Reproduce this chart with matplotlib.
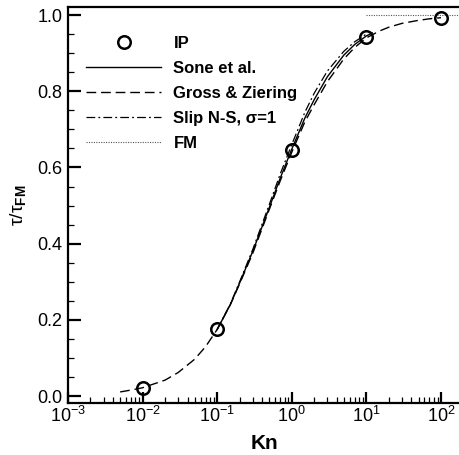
import numpy as np
import matplotlib
matplotlib.use("Agg")
import matplotlib.pyplot as plt
from matplotlib.ticker import LogLocator, MultipleLocator, NullFormatter

plt.rcParams['font.family'] = ['Liberation Sans', 'DejaVu Sans']
plt.rcParams['mathtext.fontset'] = 'custom'
plt.rcParams['mathtext.rm'] = 'Liberation Sans'
plt.rcParams['mathtext.bf'] = 'Liberation Sans:bold'
plt.rcParams['mathtext.it'] = 'Liberation Sans:italic'

# IP points
kn_ip = [0.01, 0.1, 1.0, 10.0, 100.0]
tau_ip = [0.021, 0.177, 0.647, 0.943, 0.993]

# Sone et al.
kn_sone = [0.1, 0.15, 0.2, 0.3, 0.5, 0.7, 1.0, 1.5, 2.0, 3.0, 5.0, 7.0, 10.0, 12.0]
tau_sone = [0.175, 0.24, 0.297, 0.38, 0.495, 0.572, 0.648, 0.73, 0.778, 0.838, 0.895, 0.923, 0.945, 0.953]

# Gross & Ziering
kn_gz = [0.005, 0.007, 0.01, 0.02, 0.03, 0.05, 0.07, 0.1, 0.15, 0.2, 0.3, 0.5, 0.7, 1.0,
         1.5, 2.0, 3.0, 5.0, 7.0, 10.0, 15.0, 20.0, 30.0, 50.0, 70.0, 100.0]
tau_gz = [0.011, 0.016, 0.022, 0.042, 0.062, 0.097, 0.13, 0.175, 0.24, 0.295, 0.375, 0.49,
          0.565, 0.64, 0.72, 0.765, 0.825, 0.885, 0.915, 0.94, 0.958, 0.968, 0.978, 0.986, 0.99, 0.993]

# Slip N-S, sigma=1
kn_ns = [0.1, 0.15, 0.2, 0.3, 0.5, 0.7, 1.0, 1.5, 2.0, 3.0, 5.0, 7.0, 10.0]
tau_ns = [0.175, 0.242, 0.3, 0.385, 0.503, 0.583, 0.66, 0.745, 0.795, 0.853, 0.905, 0.93, 0.95]

# free molecular limit
kn_fm = [10.0, 180.0]
tau_fm = [1.0, 1.0]

fig = plt.figure(figsize=(4.6, 4.55), dpi=100)
ax = fig.add_axes([68 / 460, 52 / 455, 392 / 460, 396 / 455])

ax.plot(kn_ip, tau_ip, 'o', mfc='none', mec='black', ms=9, mew=1.8, label='IP', zorder=5)
ax.plot(kn_sone, tau_sone, '-', color='black', lw=1.0, label='Sone et al.')
ax.plot(kn_gz, tau_gz, color='black', lw=1.0, dashes=(7, 3.5), label='Gross & Ziering')
ax.plot(kn_ns, tau_ns, color='black', lw=0.9, dashes=(7, 2.5, 1.5, 2.5), label='Slip N-S, σ=1')
ax.plot(kn_fm, tau_fm, color='#555555', lw=0.8, dashes=(1, 1.2), label='FM')

ax.set_xscale('log')
ax.set_xlim(1e-3, 180)
ax.set_ylim(-0.018, 1.021)

ax.xaxis.set_major_locator(LogLocator(base=10, numticks=10))
ax.xaxis.set_minor_locator(LogLocator(base=10, subs=np.arange(2, 10), numticks=20))
ax.xaxis.set_minor_formatter(NullFormatter())
ax.yaxis.set_major_locator(MultipleLocator(0.2))
ax.yaxis.set_minor_locator(MultipleLocator(0.05))
ax.yaxis.set_major_formatter(plt.FuncFormatter(lambda v, p: f'{v:.1f}'))

ax.tick_params(which='major', direction='in', length=9, width=1.6, labelsize=13, pad=4)
ax.tick_params(which='minor', direction='in', length=4.5, width=0.9)
ax.tick_params(axis='x', which='major', length=8, pad=2)
ax.tick_params(top=False, right=False, which='both')

for side in ['left', 'bottom', 'top']:
    ax.spines[side].set_linewidth(1.6)
ax.spines['right'].set_visible(False)

ax.set_xlabel('Kn', fontsize=15, fontweight='bold', labelpad=6)
ax.set_ylabel(r'$\mathrm{\tau}/\mathrm{\tau}_{\mathbf{FM}}$', fontsize=14, labelpad=7)

ax.legend(loc='upper left', bbox_to_anchor=(0.045, 0.928), frameon=False,
          prop={'weight': 'bold', 'size': 12}, handlelength=4.55, handletextpad=0.72,
          labelspacing=0.6, borderpad=0, borderaxespad=0)

fig.savefig('out.png', dpi=100)
